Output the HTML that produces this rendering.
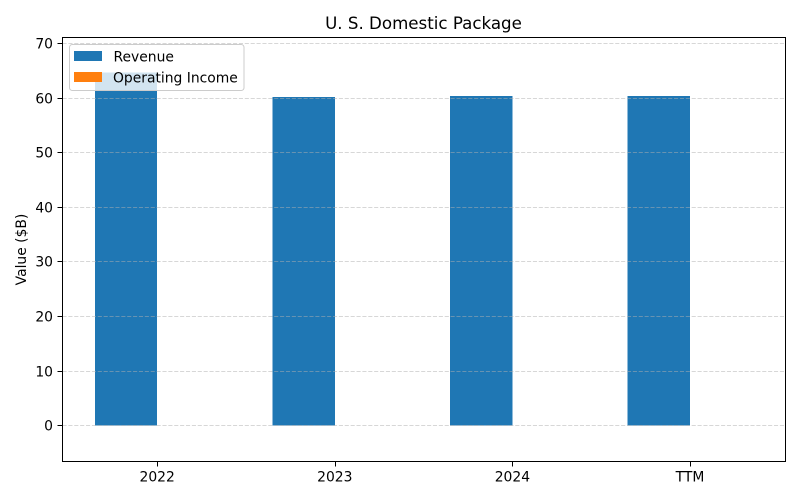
<!DOCTYPE html>
<html lang="en">
<head>
<meta charset="utf-8">
<title>U. S. Domestic Package</title>
<style>
html,body{margin:0;padding:0;background:#fff;}
svg{display:block;}
text{font-family:"DejaVu Sans","Liberation Sans",sans-serif;fill:#000;}
</style>
</head>
<body>
<svg id="chart" xmlns="http://www.w3.org/2000/svg" width="800" height="500" viewBox="0 0 800 500">
  <rect x="0" y="0" width="800" height="500" fill="#fff"/>
  <g id="bars" shape-rendering="crispEdges"></g>
  <g id="grid"></g>
  <g id="yticks"></g>
  <g id="xticks"></g>
  <rect x="62.5" y="37.5" width="723" height="424" fill="none" stroke="#000" stroke-width="1"/>
  <text x="423.5" y="29" font-size="16.67" text-anchor="middle">U. S. Domestic Package</text>
  <text transform="translate(26,249.5) rotate(-90)" font-size="13.89" text-anchor="middle">Value ($B)</text>
  <g>
    <rect x="69.5" y="44.5" width="174.5" height="46" rx="2.8" ry="2.8" fill="#fff" fill-opacity="0.8" stroke="#ccc" stroke-width="1"/>
    <rect x="74" y="51" width="28" height="10" fill="#1f77b4"/>
    <text x="113.5" y="61.5" font-size="13.89">Revenue</text>
    <rect x="74" y="72" width="28" height="10" fill="#ff7f0e"/>
    <text x="113" y="82.5" font-size="13.89">Operating Income</text>
  </g>
</svg>
<script>
const categories = ['2022', '2023', '2024', 'TTM'];
const revenue = [64.7, 60.2, 60.4, 60.4];
const operatingIncome = [0, 0, 0, 0];
const yTicks = [0, 10, 20, 30, 40, 50, 60, 70];

const NS = 'http://www.w3.org/2000/svg';
const barWidthPx = 62.4;

function xScale(i) { return 157.2 + i * 177.6; }
function yScale(v) { return 425.6 - v * 5.457; }
function snap(p) { return Math.floor(p) + 0.5; }

function make(tag, attrs, parent) {
  const el = document.createElementNS(NS, tag);
  for (const k in attrs) el.setAttribute(k, attrs[k]);
  parent.appendChild(el);
  return el;
}

const barsG = document.getElementById('bars');
const gridG = document.getElementById('grid');
const yG = document.getElementById('yticks');
const xG = document.getElementById('xticks');
const bw = barWidthPx;

categories.forEach(function (cat, i) {
  const x0 = xScale(i);
  const top = yScale(revenue[i]);
  const base = yScale(0);
  const r = make('rect', { x: x0 - bw, y: Math.min(top, base), width: bw, height: Math.abs(base - top), fill: '#1f77b4' }, barsG);
  
  

  const oTop = yScale(operatingIncome[i]);
  const o = make('rect', { x: x0, y: Math.min(oTop, base), width: bw, height: Math.abs(base - oTop), fill: '#ff7f0e' }, barsG);
  
  

  const xt = Math.round(x0) + 0.5;
  const t = make('line', { x1: xt, x2: xt, y1: 461.5, y2: 466.5, stroke: '#000', 'stroke-width': 1 }, xG);
  
  

  const l = make('text', { x: x0, y: 481.5, 'font-size': 13.89, 'text-anchor': 'middle' }, xG);
  
  
  l.textContent = cat;
});

yTicks.forEach(function (v) {
  const y = snap(yScale(v));
  const g = make('line', { x1: 62.5, x2: 785.5, y1: y, y2: y, stroke: '#b0b0b0', 'stroke-opacity': 0.5, 'stroke-width': 1, 'stroke-dasharray': '4.1 1.78' }, gridG);
  
  

  const t = make('line', { x1: 57.5, x2: 62.5, y1: y, y2: y, stroke: '#000', 'stroke-width': 1 }, yG);
  
  

  const l = make('text', { x: 53, y: y + 5, 'font-size': 13.89, 'text-anchor': 'end' }, yG);
  
  
  l.textContent = String(v);
});
</script>
</body>
</html>
